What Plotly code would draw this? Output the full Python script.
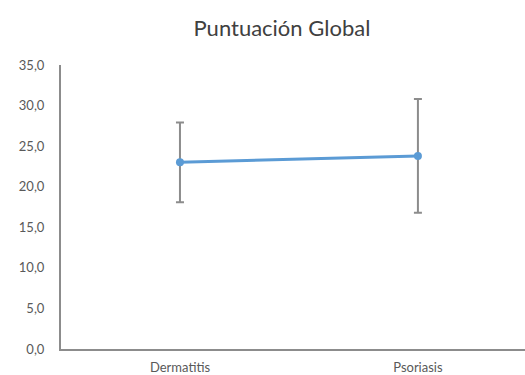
import plotly.graph_objects as go

# Mean global score per group with standard deviation
categories = ["Dermatitis", "Psoriasis"]
means = [23.0, 23.8]
sd = [4.9, 7.0]
y_ticks = [0, 5, 10, 15, 20, 25, 30, 35]

fig = go.Figure()
fig.add_trace(go.Scatter(
    x=categories,
    y=means,
    mode="lines+markers",
    line=dict(color="#5B9BD5", width=3),
    marker=dict(color="#5B9BD5", size=8),
    error_y=dict(type="data", array=sd, visible=True,
                 color="#8C8C8C", thickness=2, width=4),
    showlegend=False,
))

fig.update_layout(
    width=525, height=375,
    margin=dict(l=61, r=0, t=65, b=26, autoexpand=False),
    paper_bgcolor="white", plot_bgcolor="white",
    separators=",.",
    font=dict(family="Lato, 'Liberation Sans', sans-serif", color="#595959", size=13),
    title=dict(text="Puntuación Global", x=0.537, xanchor="center",
               y=1 - 28 / 375, yanchor="middle",
               font=dict(size=22, color="#404040")),
    xaxis=dict(
        type="category",
        range=[-0.5, 1.45],
        automargin=False,
        showline=True, linecolor="#8C8C8C", linewidth=2,
        showgrid=False, zeroline=False,
        ticks="", ticklabelstandoff=5,
        tickfont=dict(size=13, color="#595959"),
    ),
    yaxis=dict(
        range=[0, 35],
        tickvals=y_ticks,
        tickformat=".1f",
        automargin=False,
        showline=True, linecolor="#8C8C8C", linewidth=2,
        showgrid=False, zeroline=False,
        ticks="", ticklabelstandoff=12,
        tickfont=dict(size=13, color="#595959"),
    ),
)

fig.write_html("out.html")
